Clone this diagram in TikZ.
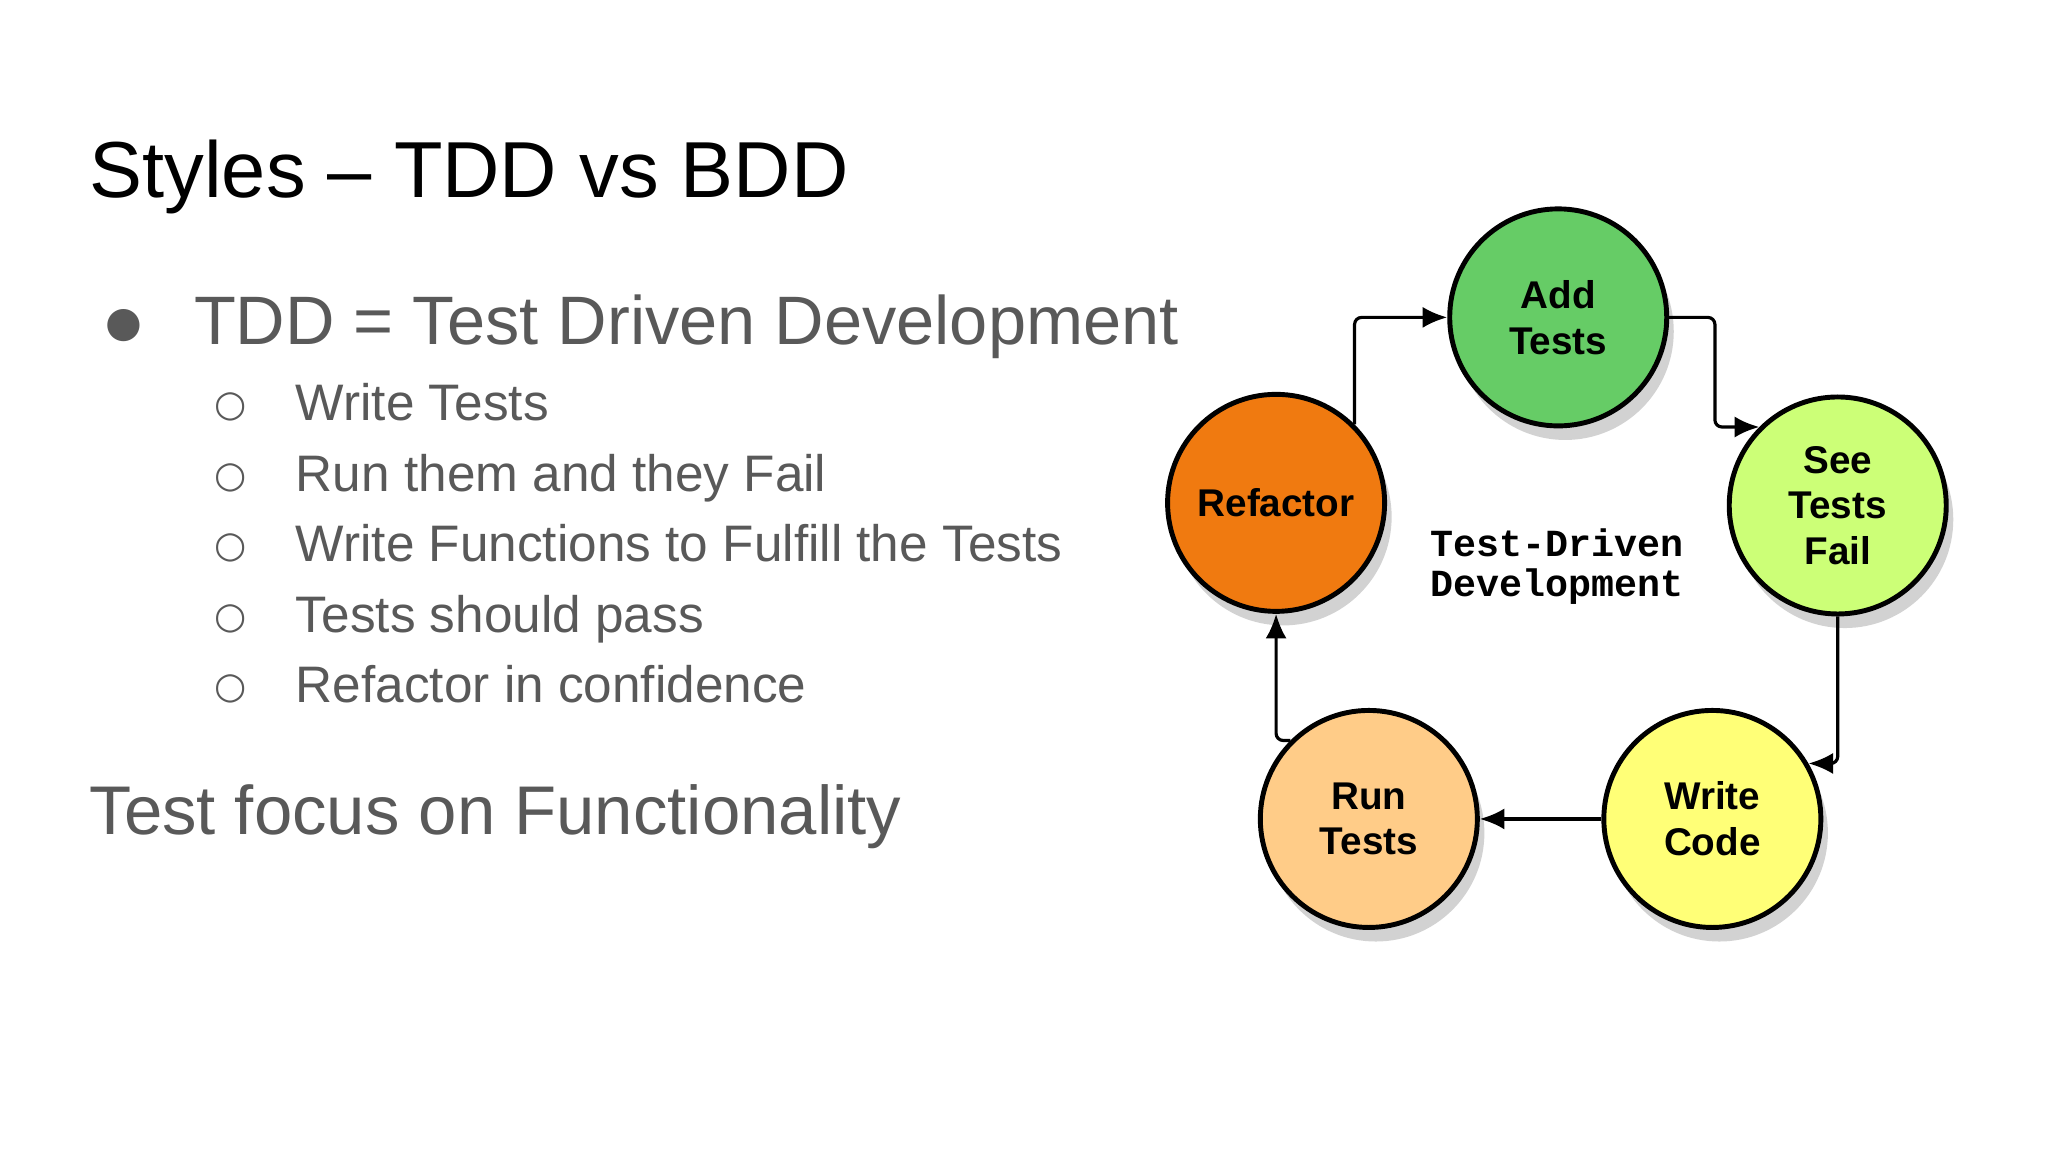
\documentclass[tikz,border=0pt]{standalone}
\usepackage{fontspec}
\setmainfont{Liberation Sans}
\newfontfamily\dejavu{DejaVu Sans}
\newfontfamily\monob{Liberation Mono}
\usetikzlibrary{shadows,arrows.meta}
\definecolor{txt}{HTML}{595959}
\begin{document}
\begin{tikzpicture}[x=0.1306mm,y=-0.1306mm,
  stage/.style={circle,draw=black,line width=1.4pt,minimum size=21.7mm,inner sep=0pt,align=center,
    font=\fontsize{11}{13}\selectfont\bfseries,drop shadow={opacity=0.35,shadow xshift=2pt,shadow yshift=-4pt}},
  conn/.style={line width=0.9pt,-{Latex[length=7pt,width=6pt]},rounded corners=2pt},
  bl/.style={anchor=base west,text=txt,inner sep=0pt}]
\useasboundingbox[fill=white] (0,0) rectangle (1568,882);
\node[anchor=base west,inner sep=0pt,font=\fontsize{22.6}{26}\selectfont] (title) at (68,151) {Styles – TDD vs BDD};
\node[bl,font=\dejavu\fontsize{12}{14}\selectfont] (b0) at (80,258) {●};
\node[bl,font=\fontsize{19.5}{22}\selectfont] (t0) at (148,264) {TDD = Test Driven Development};
\foreach \y/\t [count=\i] in {322/Write Tests,376/Run them and they Fail,430/Write Functions to Fulfill the Tests,484/Tests should pass,538/Refactor in confidence}{
  \node[bl,font=\dejavu\fontsize{10.5}{13}\selectfont] (c\i) at (164,\y-3) {○};
  \node[bl,font=\fontsize{14.6}{17}\selectfont] (s\i) at (226,\y) {\t};
}
\node[bl,font=\fontsize{19.6}{23}\selectfont] (focus) at (68,639) {Test focus on Functionality};
\node[stage,fill={rgb,255:red,102;green,204;blue,102}] (add) at (1193,243) {Add\\Tests};
\node[stage,fill={rgb,255:red,204;green,255;blue,119}] (see) at (1407,387) {See\\Tests\\Fail};
\node[stage,fill={rgb,255:red,255;green,255;blue,119}] (write) at (1311,627) {Write\\Code};
\node[stage,fill={rgb,255:red,255;green,204;blue,136}] (run) at (1048,627) {Run\\Tests};
\node[stage,fill={rgb,255:red,240;green,122;blue,16}] (ref) at (977,385) {Refactor};
\node[font=\monob\fontsize{10.9}{11.5}\selectfont\bfseries,align=left] (center) at (1192,434) {Test-Driven\\Development};
\draw[conn] (ref.45) |- (add.west);
\draw[conn] (add.east) -- ++(35,0) |- (see.north west);
\draw[conn] (see.south) |- (write.30);
\draw[conn] (write.west) -- (run.east);
\draw[conn] (run.north west) -| (ref.south);
\end{tikzpicture}
\end{document}
